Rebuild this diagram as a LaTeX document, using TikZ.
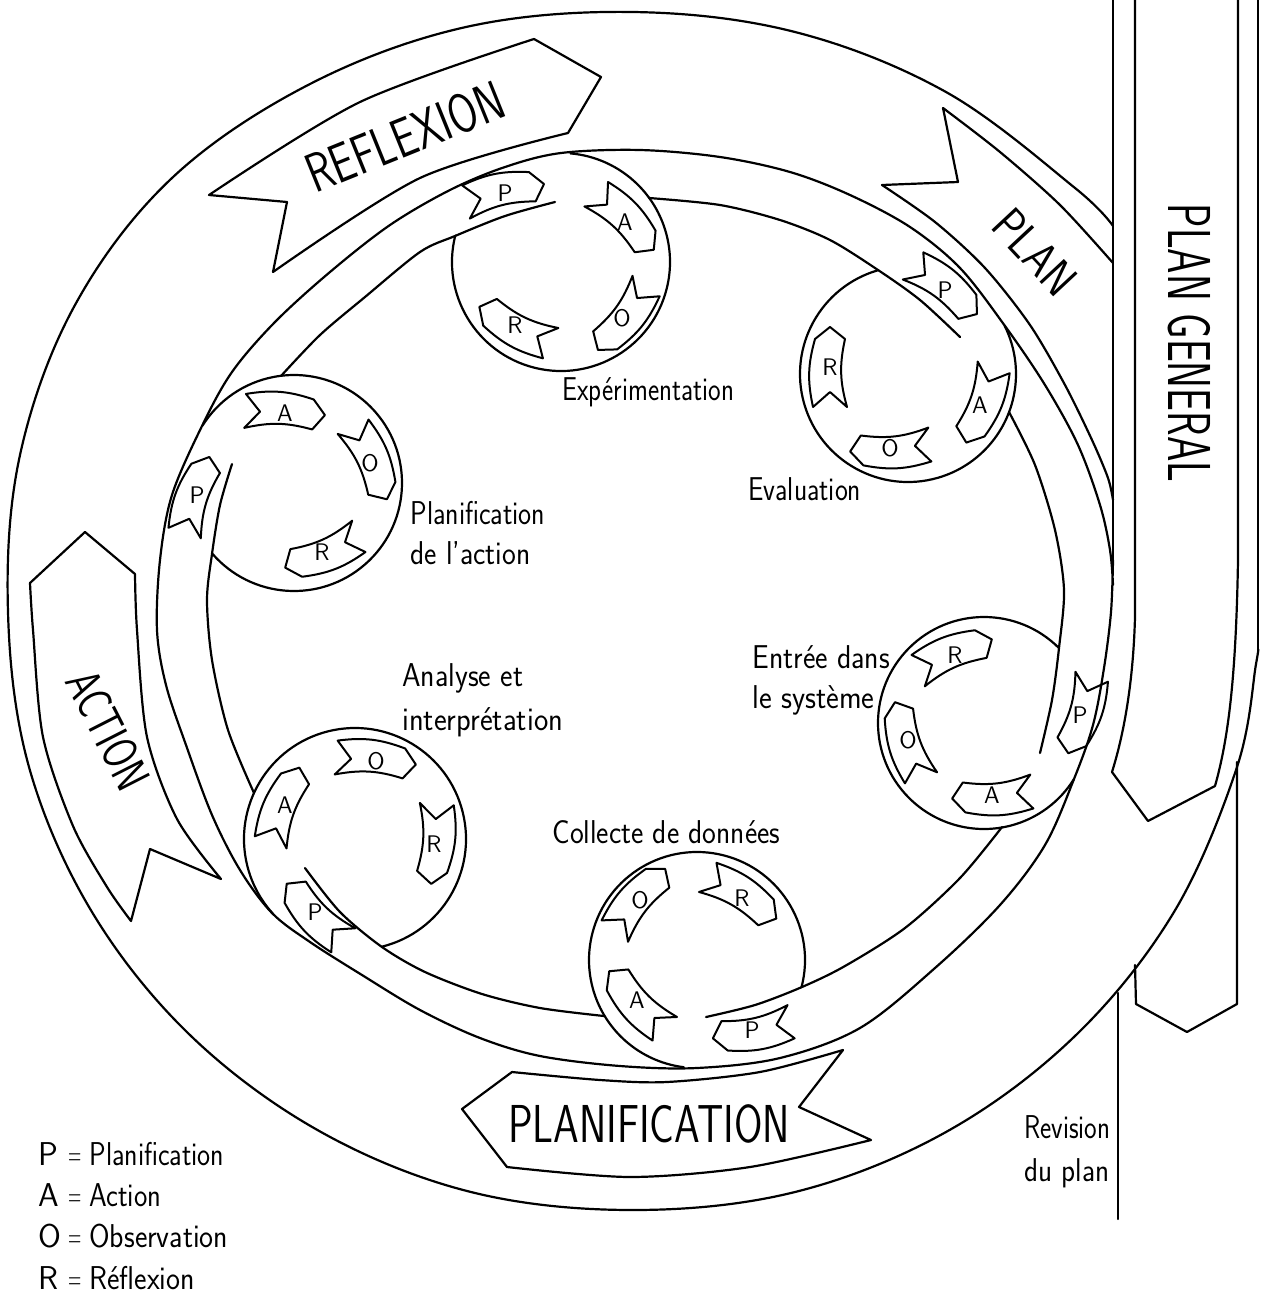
\documentclass[tikz,border=0pt]{standalone}
\usepackage{graphicx}
\tikzset{
  ln/.style={line width=1.1pt, line join=round, line cap=round},
  tagline/.style={line width=1pt, line join=round},
  lab/.style={font=\sffamily\fontsize{16.5}{18}\selectfont, inner sep=0pt, anchor=base west},
  tagl/.style={font=\sffamily\fontsize{12}{13}\selectfont, inner sep=0pt},
}
\newcommand{\ribtag}[5]{%
  \begin{scope}[shift={(#2,#3)}, rotate=#4]
    \draw[tagline] (40,0) -- (28,-15) to[bend right=14] (-40,-17) -- (-25,0) -- (-40,17) to[bend left=14] (28,15) -- cycle;
  \end{scope}
  \node[tagl] (#1) at (#2,#3) {#5};
}
\begin{document}
\begin{tikzpicture}[x=0.5pt,y=-0.5pt]
\useasboundingbox (0,0) rectangle (1260,1296);
\fill[white] (0,0) rectangle (1260,1296);

% ---------- outer spiral S1 ----------
\draw[ln] (1258,0) -- (1258,650);
\draw[ln] plot[smooth, tension=0.6] coordinates {(1258,650) (1256,664) (1237,767) (1174,912) (1075,1036) (946,1132) (795,1192) (633,1210) (471,1192) (321,1132) (191,1036) (92,912) (29,767) (8,612) (20,455) (75,305) (172,178) (310,84) (466,27) (633,12) (795,32) (946,92) (1075,188) (1113,226)};

% ---------- ring inner edge / track outer edge S2 ----------
\draw[ln] (1113,0) -- (1113,560);
\draw[ln] plot[smooth, tension=0.55] coordinates {(1113,560) (1111,612) (1104,668) (1093,725) (1074,779) (1045,845) (1000,905) (935,968) (860,1028) (780,1058) (697,1068) (620,1066) (540,1056) (480,1038) (420,1010) (362,975) (310,942) (272,913) (240,870) (212,815) (186,745) (166,685) (157,630) (160,560) (172,495) (202,426) (232,372) (275,322) (330,272) (390,225) (450,190) (505,167) (561,153) (640,150) (720,157) (790,172) (850,195) (910,227) (960,268) (1005,326) (1045,385) (1078,445) (1100,505) (1110,550) (1113,585)};

% ---------- track inner edge S3 (segments) ----------
\draw[ln] plot[smooth] coordinates {(604,1016) (540,1008) (482,994) (425,972) (382,947) (340,912) (305,868)};
\draw[ln] plot[smooth] coordinates {(254,793) (228,730) (212,660) (207,600) (212,554) (220,505) (232,464)};
\draw[ln] plot[smooth] coordinates {(281,376) (320,335) (365,297) (420,252) (455,236) (505,216) (555,202)};
\draw[ln] plot[smooth] coordinates {(649,198) (720,205) (780,220) (830,240) (878,270) (920,300) (960,337)};
\draw[ln] plot[smooth] coordinates {(1009,412) (1035,465) (1055,530) (1064,590) (1059,648) (1052,700) (1040,753)};
\draw[ln] plot[smooth] coordinates {(1002,827) (960,878) (905,928) (845,966) (802,987) (755,1005) (706,1017)};

% ---------- small circles ----------
\draw[ln] (561,262) ++(-166:109) arc[start angle=-166, end angle=-445, radius=109];
\draw[ln] (908,374) ++(-106:108) arc[start angle=-106, end angle=-386.6, radius=108];
\draw[ln] (294,483) ++(-221:108) arc[start angle=-221, end angle=-508, radius=108];
\draw[ln] (355,839) ++(76:111) arc[start angle=76, end angle=-222, radius=111];
\draw[ln] (697,960) ++(14.5:108) arc[start angle=14.5, end angle=-263, radius=108];
\draw[ln] (984,723) ++(-45:106) arc[start angle=-45, end angle=-328, radius=106];

% ---------- PLAN GENERAL bands ----------
\draw[ln] (1135,0) -- (1135,617) .. controls (1133,690) and (1122,740) .. (1112,772) -- (1148,821) -- (1215,786) .. controls (1228,740) and (1236,680) .. (1238,560) -- (1238,0);
\draw[ln] (1135,965) -- (1136,1004) -- (1187,1032) -- (1237,1004) -- (1237,762);
\draw[ln] (1118,993) -- (1118,1219);

% ---------- big arrows ----------
% PLAN
\draw[ln] plot[smooth] coordinates {(1113,263) (1060,205) (1000,152) (943,108)} -- (958,182) -- (882,185);
\draw[ln] plot[smooth] coordinates {(882,185) (935,222) (985,268) (1030,325) (1065,385) (1092,440) (1108,478) (1113,500)};
% REFLEXION
\draw[ln] (287,202) -- (209,195) -- plot[smooth] coordinates {(209,195) (360,102) (534,39)} -- (601,77) -- plot[smooth] coordinates {(568,133) (420,178) (273,272)} -- cycle;
% ACTION
\draw[ln] (85,532) -- (30,583) -- plot[smooth] coordinates {(30,583) (33,630) (43,737) (73,826) (107,887) (131,921)} -- (150,849) -- plot[smooth] coordinates {(221,879) (177,819) (147,737) (137,630) (135,574)} -- cycle;
% PLANIFICATION
\draw[ln] (462,1109) -- plot[smooth] coordinates {(512,1072) (600,1080) (667,1082) (760,1072) (843,1050)} -- (799,1107) -- plot[smooth] coordinates {(871,1140) (750,1167) (630,1177) (507,1167)} -- cycle;

% ---------- big texts ----------
\node[font=\sffamily\fontsize{26.7}{28}\selectfont, inner sep=0pt] (tPlanif) at (649,1124) {\scalebox{0.77}[1]{PLANIFICATION}};
\node[font=\sffamily\fontsize{27.5}{29}\selectfont, inner sep=0pt, rotate=22] (tRefl) at (405,137) {\scalebox{0.76}[1]{REFLEXION}};
\node[font=\sffamily\fontsize{24.5}{26}\selectfont, inner sep=0pt, rotate=-63] (tAct) at (108,730) {\scalebox{0.75}[1]{ACTION}};
\node[font=\sffamily\fontsize{24}{26}\selectfont, inner sep=0pt, rotate=-47] (tPlan) at (1035,252) {\scalebox{0.86}[1]{PLAN}};
\node[font=\sffamily\fontsize{30.3}{32}\selectfont, inner sep=0pt, rotate=-90] (tPG) at (1189,343) {\scalebox{0.67}[1]{PLAN GENERAL}};

% ---------- tags ----------
\ribtag{eP}{505}{193}{13}{P}
\ribtag{eA}{625}{222}{-44}{A}
\ribtag{eO}{622}{318}{-127}{O}
\ribtag{eR}{515}{325}{153}{R}
\ribtag{vP}{945}{290}{-37}{P}
\ribtag{vA}{980}{405}{-110}{A}
\ribtag{vO}{890}{448}{185}{O}
\ribtag{vR}{830}{367}{90}{R}
\ribtag{pP}{197}{495}{72}{P}
\ribtag{pA}{285}{413}{-3}{A}
\ribtag{pO}{370}{463}{-65}{O}
\ribtag{pR}{322}{552}{203}{R}
\ribtag{aP}{315}{912}{135}{P}
\ribtag{aA}{285}{805}{69}{A}
\ribtag{aO}{376}{761}{-5}{O}
\ribtag{aR}{434}{844}{-94}{R}
\ribtag{cP}{752}{1030}{192}{P}
\ribtag{cA}{637}{1000}{134}{A}
\ribtag{cO}{640}{900}{51}{O}
\ribtag{cR}{742}{898}{-31}{R}
\ribtag{nP}{1080}{715}{-107}{P}
\ribtag{nA}{992}{795}{185}{A}
\ribtag{nO}{908}{740}{109}{O}
\ribtag{nR}{955}{655}{23}{R}

% ---------- labels ----------
\node[lab] (tExp) at (562,400) {\scalebox{0.81}[1]{Expérimentation}};
\node[lab] (tEval) at (748,500) {\scalebox{0.83}[1]{Evaluation}};
\node[lab] (tPl1) at (410,524) {\scalebox{0.84}[1]{Planification}};
\node[lab] (tPl2) at (410,564) {\scalebox{0.89}[1]{de l’action}};
\node[lab] (tEn1) at (752,668) {\scalebox{0.90}[1]{Entrée dans}};
\node[lab] (tEn2) at (752,708) {\scalebox{0.92}[1]{le système}};
\node[lab] (tAn1) at (402,686) {\scalebox{0.90}[1]{Analyse et}};
\node[lab] (tAn2) at (402,730) {\scalebox{0.92}[1]{interprétation}};
\node[lab] (tCol) at (552,843) {\scalebox{0.89}[1]{Collecte de données}};
\node[lab] (tRev1) at (1024,1138) {\scalebox{0.81}[1]{Revision}};
\node[lab] (tRev2) at (1024,1181) {\scalebox{0.88}[1]{du plan}};

% ---------- legend ----------
\node[lab] (lgPk) at (38,1165) {P};
\node[lab] (lgPe) at (68,1165) {\scalebox{0.55}[1]{=}};
\node[lab] (lgPv) at (89,1165) {\scalebox{0.84}[1]{Planification}};
\node[lab] (lgAk) at (38,1206) {A};
\node[lab] (lgAe) at (68,1206) {\scalebox{0.55}[1]{=}};
\node[lab] (lgAv) at (89,1206) {\scalebox{0.86}[1]{Action}};
\node[lab] (lgOk) at (38,1247) {O};
\node[lab] (lgOe) at (68,1247) {\scalebox{0.55}[1]{=}};
\node[lab] (lgOv) at (89,1247) {\scalebox{0.90}[1]{Observation}};
\node[lab] (lgRk) at (38,1289) {R};
\node[lab] (lgRe) at (68,1289) {\scalebox{0.55}[1]{=}};
\node[lab] (lgRv) at (89,1289) {\scalebox{0.90}[1]{Réflexion}};
\end{tikzpicture}
\end{document}
